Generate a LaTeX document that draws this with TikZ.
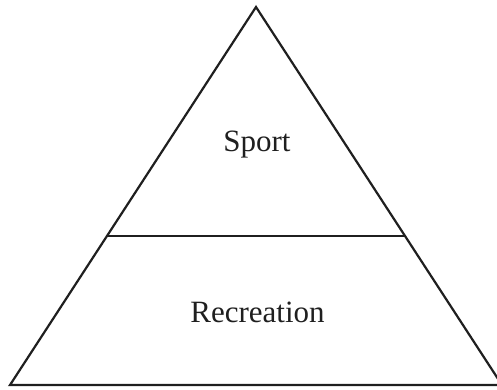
\documentclass[tikz,border=0pt]{standalone}
\usepackage{fontspec}
\setmainfont{Liberation Serif}
\usetikzlibrary{calc}
\begin{document}
\begin{tikzpicture}[x=1pt,y=-1pt,
  edge/.style={line width=2.2pt,draw=black!88,line join=miter},
  label/.style={font=\fontsize{31}{36}\selectfont,text=black!88,anchor=base,inner sep=0pt}]
\useasboundingbox (0,0) rectangle (497,389);
\coordinate (A) at (256,7);
\coordinate (L) at (10,385);
\coordinate (R) at (502,385);
\draw[edge] (L) -- (A) -- (R) -- cycle;
\coordinate (ML) at ($(L)!0.394!(A)$);
\coordinate (MR) at ($(R)!0.394!(A)$);
\draw[edge] (ML) -- (MR);
\node[label] (sport) at (257,151) {Sport};
\node[label] (rec) at (257.5,322) {Recreation};
\end{tikzpicture}
\end{document}
